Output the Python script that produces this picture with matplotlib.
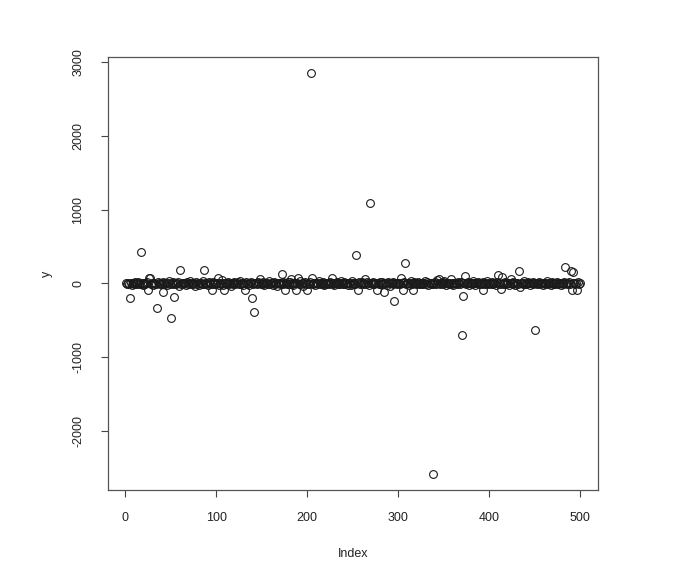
import matplotlib
matplotlib.use("Agg")
import matplotlib.pyplot as plt
import numpy as np

plt.rcParams['font.family'] = ['Liberation Sans', 'DejaVu Sans']

row00 = [3, -8, 12, -4, -200, 6, -15, 2, 9, -3, 18, -6, 1, 25, -11, 4, 423, -2, 7, -19]
row01 = [10, -5, 2, 14, -95, 72, 77, -7, 3, -22, 5, 11, -1, -9, -329, 16, 4, -13, 8, -3]
row02 = [21, -112, 6, -4, 13, -17, 2, 30, -6, -462, 9, -2, 15, -183, 4, -10, 7, 24, -31, 189]
row03 = [-5, 11, 3, -14, 8, 1, -26, 19, -3, 6, 35, -8, 2, -12, 10, 5, -40, 14, -1, 7]
row04 = [-18, 4, 12, -6, 28, -2, 176, 9, -11, 3, -23, 16, 1, -7, -95, 20, -4, 6, 13, -9]
row05 = [2, 72, -15, 8, -3, 44, 5, -20, -95, 11, -1, 7, 17, -8, 3, -29, 12, 4, -6, 22]
row06 = [-10, 6, 1, 15, -4, 33, -13, 9, 2, -18, 5, -95, 14, -2, 8, -25, 3, 19, -200, 7]
row07 = [-6, -390, 11, 4, -14, 26, 1, 63, -9, 5, 16, -3, -21, 8, 2, 12, -7, 38, -1, 10]
row08 = [4, -16, 9, 22, -5, 13, -28, 3, 7, -11, 1, 126, -4, 17, 6, -95, 10, -2, 24, -8]
row09 = [15, 63, -6, 2, -19, 8, 11, -95, 4, 80, -3, 27, -12, 6, 1, -34, 9, 14, -5, -95]
row10 = [7, -2, 18, 2851, 77, -9, 4, 12, -23, 1, 6, -14, 31, 3, -7, 10, -1, 20, -16, 5]
row11 = [-4, 13, 2, -10, 25, 8, 77, -3, 11, -27, 6, 1, 16, -8, 4, -12, 39, 2, -5, 9]
row12 = [19, -6, 3, 12, -21, 7, 1, -15, 28, 5, -2, 10, -9, 380, 4, -95, 14, -3, 8, 22]
row13 = [-11, 2, 6, 55, -7, 17, 1, -24, 1085, 9, 3, -13, 21, -4, 7, 12, -95, 5, -1, 15]
row14 = [-8, 26, 3, -5, -120, 10, 2, -17, 14, 6, -30, 1, 8, 18, -3, -243, 11, 4, -12, 7]
row15 = [2, -9, 77, 13, -95, 5, 20, 278, -6, 1, 11, -18, 4, 29, -2, 8, -85, 15, 3, -10]
row16 = [6, 23, -4, 1, -14, 9, 12, -7, 3, 36, -1, 17, -22, 5, 10, -3, 7, -11, -2581, 2]
row17 = [14, -6, 50, 4, 55, -13, 8, 1, 19, -5, 27, 3, -16, 9, 2, -8, 11, 55, -4, 6]
row18 = [-20, 12, 3, 7, -9, 24, 1, -2, 15, -703, -170, 5, 10, 99, -6, 2, 18, -25, 4, 8]
row19 = [-3, 13, 40, 6, -15, 1, 9, 21, -7, 3, 11, -4, 16, -85, 2, -11, 7, 30, -1, 5]
row20 = [10, -6, 22, 3, -13, 8, 1, -18, 14, 108, 4, -2, -72, 86, 9, -9, 5, 26, -4, 12]
row21 = [2, -16, 7, 58, 1, -5, 19, 11, -27, 3, 8, -1, 174, -50, 13, 6, -10, 4, 32, -3]
row22 = [-8, 9, 15, 2, -19, 5, 1, 24, -6, 11, -635, 3, -12, 7, 17, -4, 2, 10, -23, 6]
row23 = [13, -2, 4, 29, -9, 1, 8, -15, 18, 5, -3, 11, -7, 2, 21, -11, 6, 3, -17, 9]
row24 = [1, -5, 14, 220, 7, -12, 3, 19, -4, 165, -95, 6, 150, 10, -8, 2, -95, 16, -2, 8]

y = (row00 + row01 + row02 + row03 + row04 + row05 + row06 + row07 + row08 + row09 +
     row10 + row11 + row12 + row13 + row14 + row15 + row16 + row17 + row18 + row19 +
     row20 + row21 + row22 + row23 + row24)
index = list(range(1, len(y) + 1))

x_ticks = [0, 100, 200, 300, 400, 500]
y_ticks = [-2000, -1000, 0, 1000, 2000, 3000]

fig = plt.figure(figsize=(6.79, 5.79), dpi=100)
ax = fig.add_axes([108 / 679, 1 - 490 / 579, (598 - 108) / 679, (490 - 57) / 579])

ax.plot(index, y, linestyle='none', marker='o', ms=5.6, mfc='none',
        mec='#1a1a1a', mew=0.8)

xr = max(index) - min(index)
ax.set_xlim(min(index) - 0.04 * xr, max(index) + 0.04 * xr)
yr = max(y) - min(y)
ax.set_ylim(min(y) - 0.04 * yr, max(y) + 0.04 * yr)

ax.set_xticks(x_ticks)
ax.set_yticks(y_ticks)
ax.set_xticklabels([str(v) for v in x_ticks])
ax.set_yticklabels([str(v) for v in y_ticks], rotation=90, va='center')
ax.tick_params(axis='both', direction='out', length=5, width=0.8,
               color='#444444', labelsize=9, labelcolor='#222222')
ax.tick_params(axis='x', pad=11)
ax.tick_params(axis='y', pad=12)
for s in ax.spines.values():
    s.set_color('#555555')
    s.set_linewidth(0.9)

ax.set_xlabel('Index', fontsize=9, color='#222222', labelpad=17)
ax.set_ylabel('y', fontsize=9, color='#222222', labelpad=14)

fig.savefig('out.png', dpi=100)
